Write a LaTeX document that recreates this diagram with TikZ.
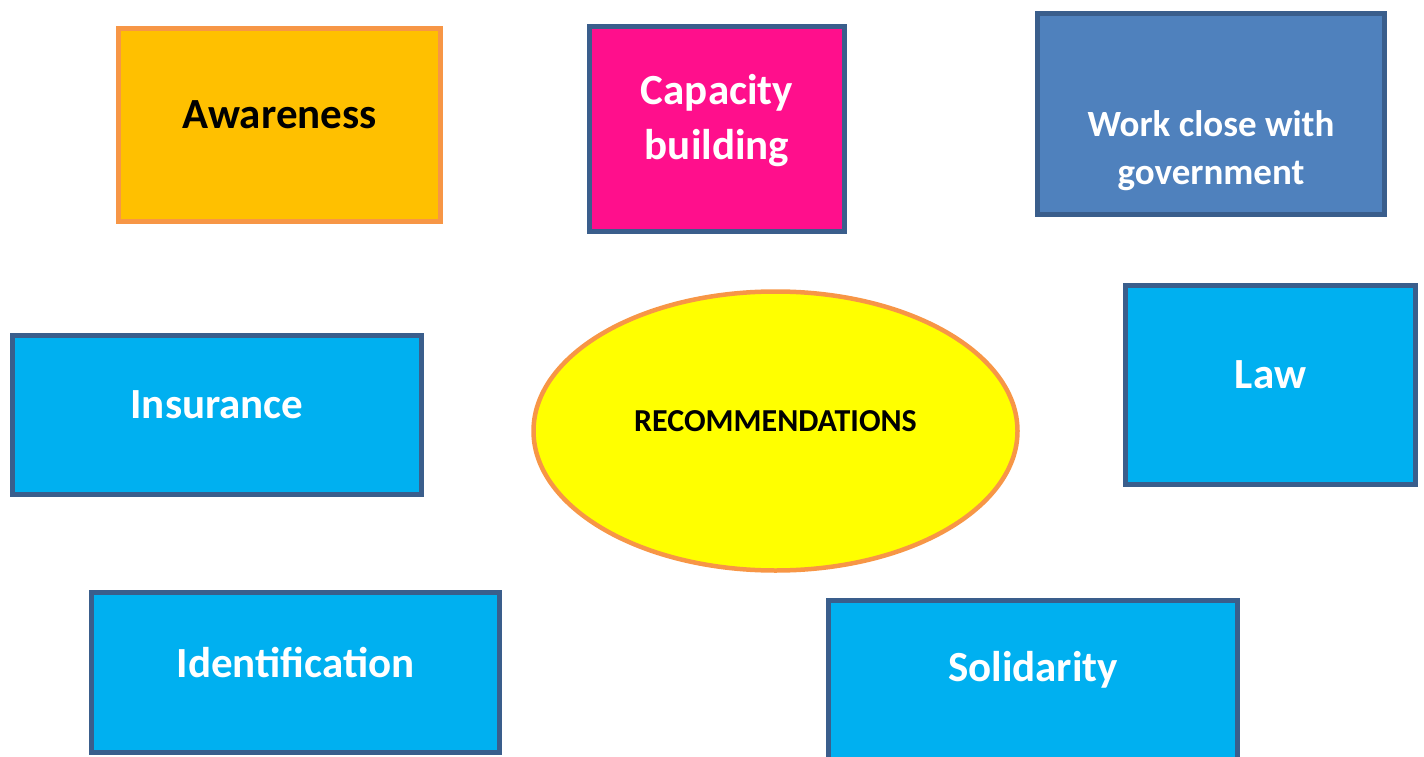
\documentclass[tikz,border=0pt]{standalone}
\usepackage{fontspec}
\setmainfont{Carlito}
\usetikzlibrary{shapes.geometric}
\definecolor{amber}{HTML}{FFC000}
\definecolor{peach}{HTML}{F79646}
\definecolor{hotpink}{HTML}{FF0F8C}
\definecolor{steelblue}{HTML}{4F81BD}
\definecolor{darkslate}{HTML}{3A5E8C}
\definecolor{skyblue}{HTML}{00B0F0}
\definecolor{lemon}{HTML}{FFFF00}

\tikzset{
	box/.style={rectangle,draw=darkslate,line width=4.5pt,fill=skyblue,inner sep=0pt},
	lbl/.style={text=white,font=\bfseries\fontsize{43}{55}\selectfont,align=center},
}

\begin{document}
\begin{tikzpicture}[x=1pt,y=-1pt]
		\useasboundingbox (0,0) rectangle (1424,757);
		
		%\fill[white] (0,0) rectangle (1424,757);
		
		\node[box,draw=peach,fill=amber,minimum width=322pt,minimum height=193pt,
			label={[lbl,text=black,yshift=10pt]center:Awareness}] (aware) at (279.5,125) {};
		
		\node[box,fill=hotpink,minimum width=255pt,minimum height=205pt,
			label={[lbl,yshift=8pt]center:Capacity\\building}] (capacity) at (717,129) {};
		
		\node[box,fill=steelblue,minimum width=347pt,minimum height=201pt,
			label={[lbl,font=\bfseries\fontsize{37}{48}\selectfont,yshift=-37pt]center:Work close with\\government}] (govt) at (1211,114) {};
		
		\node[box,minimum width=290pt,minimum height=199pt,
			label={[lbl,yshift=10pt]center:Law}] (law) at (1270.5,385) {};
		
		\node[box,minimum width=409pt,minimum height=159pt,
			label={[lbl,yshift=10pt]center:Insurance}] (insurance) at (217,415) {};
		
		\node[box,minimum width=408pt,minimum height=160pt,
			label={[lbl,yshift=10pt]center:Identification}] (ident) at (295.5,672.5) {};
		
		\node[box,minimum width=409pt,minimum height=159pt,
			label={[lbl,yshift=10pt]center:Solidarity}] (solid) at (1033,680) {};
		
		\node[ellipse,draw=peach,line width=4.5pt,fill=lemon,minimum width=484pt,minimum height=279pt,inner sep=0pt,
			label={[font=\bfseries\fontsize{32}{38}\selectfont,yshift=10pt]center:RECOMMENDATIONS}] (rec) at (775.5,431) {};
		
\end{tikzpicture}
\end{document}
